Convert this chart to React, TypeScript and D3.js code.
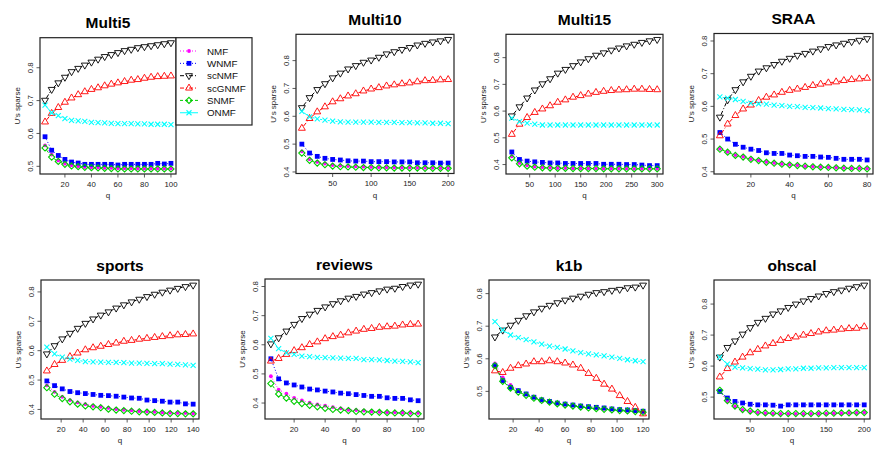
import React from 'react';
import * as d3 from 'd3';

// ---------- series meta ----------
const seriesNames = ['NMF', 'WNMF', 'scNMF', 'scGNMF', 'SNMF', 'ONMF'];
const seriesColors = ['#FF00FF', '#0000FF', '#000000', '#FF0000', '#00CD00', '#00FFFF'];
const seriesDash = ['1,2', '1,2', '4,2,1,2', '4,2,1,2', '3,2', ''];

// ---------- Multi5 ----------
const multi5Q = [5, 10, 15, 20, 25, 30, 35, 40, 45, 50, 55, 60, 65, 70, 75, 80, 85, 90, 95, 100];
const multi5NMF = [0.564, 0.536, 0.518, 0.508, 0.503, 0.500, 0.498, 0.497, 0.496, 0.495, 0.495, 0.494, 0.494, 0.494, 0.493, 0.493, 0.493, 0.493, 0.493, 0.493];
const multi5WNMF = [0.590, 0.549, 0.533, 0.521, 0.513, 0.510, 0.506, 0.506, 0.506, 0.506, 0.506, 0.504, 0.506, 0.506, 0.506, 0.506, 0.506, 0.509, 0.507, 0.509];
const multi5ScNMF = [0.701, 0.734, 0.754, 0.771, 0.788, 0.798, 0.808, 0.817, 0.826, 0.834, 0.840, 0.846, 0.852, 0.856, 0.861, 0.864, 0.867, 0.870, 0.873, 0.876];
const multi5ScGNMF = [0.635, 0.661, 0.679, 0.695, 0.708, 0.718, 0.727, 0.734, 0.739, 0.745, 0.750, 0.754, 0.758, 0.762, 0.764, 0.768, 0.771, 0.773, 0.774, 0.775];
const multi5SNMF = [0.556, 0.528, 0.515, 0.506, 0.501, 0.499, 0.497, 0.496, 0.495, 0.494, 0.493, 0.492, 0.492, 0.492, 0.492, 0.492, 0.492, 0.492, 0.492, 0.492];
const multi5ONMF = [0.686, 0.663, 0.654, 0.645, 0.640, 0.638, 0.637, 0.634, 0.633, 0.632, 0.631, 0.630, 0.630, 0.630, 0.629, 0.629, 0.628, 0.628, 0.628, 0.627];

// ---------- Multi10 ----------
const multi10Q = [10, 20, 30, 40, 50, 60, 70, 80, 90, 100, 110, 120, 130, 140, 150, 160, 170, 180, 190, 200];
const multi10NMF = [0.474, 0.446, 0.436, 0.430, 0.425, 0.423, 0.421, 0.420, 0.419, 0.418, 0.417, 0.417, 0.416, 0.416, 0.416, 0.415, 0.415, 0.415, 0.414, 0.414];
const multi10WNMF = [0.500, 0.468, 0.456, 0.449, 0.445, 0.443, 0.440, 0.439, 0.439, 0.437, 0.437, 0.437, 0.436, 0.436, 0.436, 0.433, 0.433, 0.433, 0.432, 0.432];
const multi10ScNMF = [0.631, 0.667, 0.696, 0.717, 0.738, 0.755, 0.770, 0.782, 0.794, 0.802, 0.812, 0.824, 0.832, 0.840, 0.847, 0.856, 0.862, 0.867, 0.871, 0.876];
const multi10ScGNMF = [0.557, 0.592, 0.616, 0.634, 0.652, 0.663, 0.673, 0.681, 0.691, 0.698, 0.703, 0.709, 0.713, 0.717, 0.720, 0.724, 0.728, 0.729, 0.731, 0.732];
const multi10SNMF = [0.468, 0.442, 0.432, 0.426, 0.421, 0.419, 0.418, 0.417, 0.416, 0.416, 0.415, 0.415, 0.414, 0.414, 0.414, 0.414, 0.413, 0.413, 0.413, 0.413];
const multi10ONMF = [0.618, 0.598, 0.591, 0.586, 0.583, 0.580, 0.579, 0.579, 0.579, 0.579, 0.578, 0.578, 0.578, 0.577, 0.577, 0.576, 0.576, 0.575, 0.575, 0.574];

// ---------- Multi15 ----------
const multi15Q = [15, 30, 45, 60, 75, 90, 105, 120, 135, 150, 165, 180, 195, 210, 225, 240, 255, 270, 285, 300];
const multi15NMF = [0.431, 0.406, 0.397, 0.392, 0.390, 0.388, 0.387, 0.387, 0.386, 0.386, 0.386, 0.385, 0.385, 0.385, 0.385, 0.385, 0.384, 0.384, 0.384, 0.384];
const multi15WNMF = [0.447, 0.419, 0.413, 0.410, 0.408, 0.406, 0.406, 0.404, 0.404, 0.404, 0.404, 0.404, 0.401, 0.401, 0.401, 0.400, 0.400, 0.398, 0.396, 0.396];
const multi15ScNMF = [0.582, 0.616, 0.649, 0.679, 0.702, 0.721, 0.742, 0.756, 0.770, 0.784, 0.796, 0.809, 0.818, 0.828, 0.836, 0.844, 0.850, 0.857, 0.863, 0.868];
const multi15ScGNMF = [0.513, 0.551, 0.576, 0.595, 0.608, 0.620, 0.633, 0.642, 0.652, 0.658, 0.664, 0.670, 0.674, 0.677, 0.679, 0.680, 0.682, 0.682, 0.681, 0.680];
const multi15SNMF = [0.425, 0.403, 0.394, 0.390, 0.388, 0.387, 0.386, 0.386, 0.385, 0.385, 0.385, 0.385, 0.384, 0.384, 0.384, 0.384, 0.384, 0.384, 0.384, 0.384];
const multi15ONMF = [0.574, 0.561, 0.555, 0.551, 0.548, 0.548, 0.548, 0.548, 0.548, 0.548, 0.548, 0.548, 0.548, 0.548, 0.548, 0.548, 0.548, 0.548, 0.548, 0.548];

// ---------- SRAA ----------
const sraaQ = [4, 8, 12, 16, 20, 24, 28, 32, 36, 40, 44, 48, 52, 56, 60, 64, 68, 72, 76, 80];
const sraaNMF = [0.470, 0.461, 0.451, 0.446, 0.439, 0.435, 0.430, 0.427, 0.424, 0.422, 0.420, 0.417, 0.416, 0.415, 0.414, 0.413, 0.412, 0.411, 0.411, 0.410];
const sraaWNMF = [0.520, 0.500, 0.484, 0.475, 0.469, 0.465, 0.458, 0.456, 0.456, 0.451, 0.449, 0.447, 0.447, 0.445, 0.444, 0.441, 0.438, 0.438, 0.438, 0.436];
const sraaScNMF = [0.567, 0.620, 0.651, 0.675, 0.692, 0.708, 0.718, 0.728, 0.738, 0.747, 0.756, 0.762, 0.769, 0.776, 0.783, 0.788, 0.793, 0.798, 0.802, 0.807];
const sraaScGNMF = [0.510, 0.546, 0.572, 0.592, 0.604, 0.618, 0.628, 0.635, 0.643, 0.649, 0.653, 0.658, 0.664, 0.668, 0.672, 0.675, 0.679, 0.682, 0.684, 0.686];
const sraaSNMF = [0.469, 0.460, 0.450, 0.445, 0.438, 0.434, 0.429, 0.426, 0.423, 0.421, 0.419, 0.417, 0.415, 0.414, 0.413, 0.412, 0.411, 0.410, 0.410, 0.409];
const sraaONMF = [0.629, 0.625, 0.621, 0.615, 0.610, 0.608, 0.607, 0.604, 0.602, 0.600, 0.599, 0.597, 0.596, 0.595, 0.593, 0.592, 0.591, 0.590, 0.589, 0.587];

// ---------- sports ----------
const sportsQ = [7, 14, 21, 28, 35, 42, 49, 56, 63, 70, 77, 84, 91, 98, 105, 112, 119, 126, 133, 140];
const sportsNMF = [0.482, 0.460, 0.443, 0.432, 0.424, 0.418, 0.412, 0.409, 0.405, 0.401, 0.399, 0.397, 0.394, 0.393, 0.392, 0.390, 0.389, 0.388, 0.388, 0.386];
const sportsWNMF = [0.497, 0.481, 0.470, 0.461, 0.457, 0.454, 0.451, 0.448, 0.447, 0.445, 0.442, 0.439, 0.438, 0.432, 0.430, 0.428, 0.425, 0.425, 0.419, 0.418];
const sportsScNMF = [0.589, 0.617, 0.640, 0.659, 0.676, 0.693, 0.708, 0.721, 0.732, 0.745, 0.756, 0.766, 0.775, 0.784, 0.792, 0.799, 0.806, 0.812, 0.818, 0.823];
const sportsScGNMF = [0.531, 0.553, 0.567, 0.580, 0.592, 0.603, 0.610, 0.615, 0.621, 0.626, 0.632, 0.635, 0.639, 0.642, 0.645, 0.648, 0.651, 0.654, 0.655, 0.657];
const sportsSNMF = [0.474, 0.452, 0.437, 0.426, 0.418, 0.412, 0.409, 0.406, 0.401, 0.398, 0.396, 0.394, 0.392, 0.391, 0.390, 0.388, 0.386, 0.386, 0.385, 0.385];
const sportsONMF = [0.612, 0.589, 0.578, 0.571, 0.567, 0.563, 0.562, 0.561, 0.560, 0.560, 0.559, 0.558, 0.558, 0.557, 0.556, 0.556, 0.554, 0.553, 0.552, 0.550];

// ---------- reviews ----------
const reviewsQ = [5, 10, 15, 20, 25, 30, 35, 40, 45, 50, 55, 60, 65, 70, 75, 80, 85, 90, 95, 100];
const reviewsNMF = [0.492, 0.446, 0.432, 0.418, 0.409, 0.401, 0.395, 0.391, 0.386, 0.382, 0.377, 0.376, 0.374, 0.371, 0.370, 0.368, 0.368, 0.367, 0.366, 0.366];
const reviewsWNMF = [0.552, 0.483, 0.469, 0.462, 0.455, 0.448, 0.445, 0.441, 0.438, 0.434, 0.432, 0.429, 0.426, 0.423, 0.423, 0.418, 0.416, 0.416, 0.411, 0.408];
const reviewsScNMF = [0.603, 0.624, 0.647, 0.670, 0.690, 0.705, 0.718, 0.730, 0.741, 0.751, 0.760, 0.766, 0.774, 0.779, 0.785, 0.791, 0.794, 0.800, 0.805, 0.808];
const reviewsScGNMF = [0.544, 0.553, 0.567, 0.580, 0.590, 0.601, 0.610, 0.621, 0.628, 0.633, 0.641, 0.647, 0.653, 0.656, 0.660, 0.662, 0.664, 0.668, 0.670, 0.671];
const reviewsSNMF = [0.467, 0.431, 0.417, 0.406, 0.398, 0.392, 0.387, 0.382, 0.378, 0.376, 0.374, 0.371, 0.370, 0.369, 0.368, 0.367, 0.366, 0.366, 0.364, 0.363];
const reviewsONMF = [0.622, 0.587, 0.572, 0.567, 0.561, 0.559, 0.557, 0.556, 0.555, 0.554, 0.553, 0.553, 0.549, 0.549, 0.548, 0.546, 0.544, 0.543, 0.541, 0.539];

// ---------- k1b ----------
const k1bQ = [6, 12, 18, 24, 30, 36, 42, 48, 54, 60, 66, 72, 78, 84, 90, 96, 102, 108, 114, 120];
const k1bNMF = [0.586, 0.543, 0.520, 0.504, 0.492, 0.482, 0.474, 0.469, 0.464, 0.460, 0.457, 0.454, 0.451, 0.449, 0.447, 0.445, 0.443, 0.441, 0.439, 0.437];
const k1bWNMF = [0.579, 0.533, 0.512, 0.502, 0.492, 0.482, 0.474, 0.469, 0.464, 0.461, 0.458, 0.455, 0.453, 0.451, 0.449, 0.446, 0.444, 0.443, 0.441, 0.439];
const k1bScNMF = [0.667, 0.688, 0.703, 0.718, 0.732, 0.744, 0.755, 0.764, 0.772, 0.780, 0.786, 0.792, 0.798, 0.803, 0.806, 0.810, 0.813, 0.818, 0.820, 0.826];
const k1bScGNMF = [0.563, 0.558, 0.571, 0.579, 0.584, 0.591, 0.591, 0.594, 0.591, 0.587, 0.581, 0.571, 0.555, 0.540, 0.522, 0.507, 0.487, 0.469, 0.451, 0.431];
const k1bSNMF = [0.579, 0.531, 0.510, 0.498, 0.488, 0.479, 0.472, 0.467, 0.462, 0.458, 0.455, 0.452, 0.449, 0.447, 0.445, 0.443, 0.441, 0.440, 0.438, 0.436];
const k1bONMF = [0.714, 0.688, 0.673, 0.665, 0.659, 0.652, 0.645, 0.639, 0.635, 0.630, 0.624, 0.619, 0.615, 0.612, 0.609, 0.605, 0.601, 0.597, 0.594, 0.591];

// ---------- ohscal ----------
const ohscalQ = [10, 20, 30, 40, 50, 60, 70, 80, 90, 100, 110, 120, 130, 140, 150, 160, 170, 180, 190, 200];
const ohscalNMF = [0.518, 0.487, 0.470, 0.459, 0.454, 0.450, 0.448, 0.447, 0.446, 0.446, 0.446, 0.446, 0.446, 0.447, 0.447, 0.448, 0.448, 0.449, 0.449, 0.450];
const ohscalWNMF = [0.518, 0.497, 0.486, 0.481, 0.477, 0.475, 0.475, 0.474, 0.471, 0.475, 0.475, 0.475, 0.475, 0.475, 0.475, 0.475, 0.475, 0.475, 0.475, 0.475];
const ohscalScNMF = [0.629, 0.660, 0.681, 0.703, 0.724, 0.741, 0.754, 0.768, 0.778, 0.789, 0.800, 0.810, 0.818, 0.826, 0.834, 0.840, 0.845, 0.851, 0.856, 0.861];
const ohscalScGNMF = [0.565, 0.592, 0.613, 0.629, 0.643, 0.654, 0.665, 0.673, 0.683, 0.689, 0.694, 0.700, 0.705, 0.710, 0.714, 0.716, 0.719, 0.721, 0.722, 0.727];
const ohscalSNMF = [0.522, 0.489, 0.471, 0.460, 0.455, 0.451, 0.449, 0.448, 0.447, 0.447, 0.447, 0.447, 0.447, 0.447, 0.448, 0.448, 0.449, 0.449, 0.450, 0.450];
const ohscalONMF = [0.629, 0.606, 0.597, 0.594, 0.592, 0.590, 0.588, 0.588, 0.589, 0.591, 0.591, 0.593, 0.593, 0.594, 0.594, 0.595, 0.595, 0.595, 0.595, 0.595];

// ---------- tick labels ----------
const multi5XTicks = [20, 40, 60, 80, 100];
const multi10XTicks = [50, 100, 150, 200];
const multi15XTicks = [50, 100, 150, 200, 250, 300];
const sraaXTicks = [20, 40, 60, 80];
const sportsXTicks = [20, 40, 60, 80, 100, 120, 140];
const reviewsXTicks = [20, 40, 60, 80, 100];
const k1bXTicks = [20, 40, 60, 80, 100, 120];
const ohscalXTicks = [50, 100, 150, 200];
const yTicksFrom04 = [0.4, 0.5, 0.6, 0.7, 0.8];
const yTicksFrom05 = [0.5, 0.6, 0.7, 0.8];

const panelTitles = ['Multi5', 'Multi10', 'Multi15', 'SRAA', 'sports', 'reviews', 'k1b', 'ohscal'];

// layout (plot box in px): [left, right, top, bottom]
const panelBoxes: number[][] = [
  [40, 176, 37.7, 174],
  [296, 454, 34.3, 173.5],
  [506, 663, 34.3, 174],
  [714, 873, 33.5, 174],
  [41, 199, 280, 419],
  [265, 424, 279, 419],
  [489, 649, 280, 419],
  [714, 870, 280, 419],
];

const panels = [
  { q: multi5Q, s: [multi5NMF, multi5WNMF, multi5ScNMF, multi5ScGNMF, multi5SNMF, multi5ONMF], xt: multi5XTicks, yt: yTicksFrom05 },
  { q: multi10Q, s: [multi10NMF, multi10WNMF, multi10ScNMF, multi10ScGNMF, multi10SNMF, multi10ONMF], xt: multi10XTicks, yt: yTicksFrom04 },
  { q: multi15Q, s: [multi15NMF, multi15WNMF, multi15ScNMF, multi15ScGNMF, multi15SNMF, multi15ONMF], xt: multi15XTicks, yt: yTicksFrom04 },
  { q: sraaQ, s: [sraaNMF, sraaWNMF, sraaScNMF, sraaScGNMF, sraaSNMF, sraaONMF], xt: sraaXTicks, yt: yTicksFrom04 },
  { q: sportsQ, s: [sportsNMF, sportsWNMF, sportsScNMF, sportsScGNMF, sportsSNMF, sportsONMF], xt: sportsXTicks, yt: yTicksFrom04 },
  { q: reviewsQ, s: [reviewsNMF, reviewsWNMF, reviewsScNMF, reviewsScGNMF, reviewsSNMF, reviewsONMF], xt: reviewsXTicks, yt: yTicksFrom04 },
  { q: k1bQ, s: [k1bNMF, k1bWNMF, k1bScNMF, k1bScGNMF, k1bSNMF, k1bONMF], xt: k1bXTicks, yt: yTicksFrom05 },
  { q: ohscalQ, s: [ohscalNMF, ohscalWNMF, ohscalScNMF, ohscalScGNMF, ohscalSNMF, ohscalONMF], xt: ohscalXTicks, yt: yTicksFrom05 },
];

const FONT = "'Liberation Sans', Arial, Helvetica, sans-serif";

function rPad(ext: [number, number]): [number, number] {
  const d = (ext[1] - ext[0]) * 0.04;
  return [ext[0] - d, ext[1] + d];
}

function Marker({ i, x, y }: { i: number; x: number; y: number }) {
  const c = seriesColors[i];
  if (i === 0) return <circle cx={x} cy={y} r={1.9} fill={c} />;
  if (i === 1) return <rect x={x - 2.4} y={y - 2.4} width={4.8} height={4.8} fill={c} />;
  if (i === 2) {
    const r = 4;
    const pts = [[x, y + r], [x - r * 0.866, y - r / 2], [x + r * 0.866, y - r / 2]];
    return <polygon points={pts.map((p) => p.join(',')).join(' ')} fill="none" stroke={c} strokeWidth={0.9} />;
  }
  if (i === 3) {
    const r = 4;
    const pts = [[x, y - r], [x - r * 0.866, y + r / 2], [x + r * 0.866, y + r / 2]];
    return <polygon points={pts.map((p) => p.join(',')).join(' ')} fill="none" stroke={c} strokeWidth={0.9} />;
  }
  if (i === 4) {
    const r = 3.1;
    const pts = [[x, y - r], [x + r, y], [x, y + r], [x - r, y]];
    return <polygon points={pts.map((p) => p.join(',')).join(' ')} fill="none" stroke={c} strokeWidth={1.1} />;
  }
  const r = 2.5;
  return (
    <g stroke={c} strokeWidth={1.1}>
      <line x1={x - r} y1={y - r} x2={x + r} y2={y + r} />
      <line x1={x - r} y1={y + r} x2={x + r} y2={y - r} />
    </g>
  );
}

function gappedSegments(pts: [number, number][], gap: number) {
  const segs: string[] = [];
  for (let k = 0; k < pts.length - 1; k++) {
    const [x0, y0] = pts[k];
    const [x1, y1] = pts[k + 1];
    const dx = x1 - x0, dy = y1 - y0;
    const d = Math.hypot(dx, dy);
    if (d <= 2 * gap) continue;
    const ux = dx / d, uy = dy / d;
    segs.push(`M${x0 + ux * gap},${y0 + uy * gap}L${x1 - ux * gap},${y1 - uy * gap}`);
  }
  return segs.join('');
}

function Panel({ idx }: { idx: number }) {
  const p = panels[idx];
  const [L, R, T, B] = panelBoxes[idx];
  const all = p.s.flat();
  const x = d3.scaleLinear().domain(rPad(d3.extent(p.q) as [number, number])).range([L, R]);
  const y = d3.scaleLinear().domain(rPad(d3.extent(all) as [number, number])).range([B, T]);
  const cx = (L + R) / 2;
  const cy = (T + B) / 2;
  return (
    <g>
      <text x={cx} y={T - 9.5} textAnchor="middle" fontFamily={FONT} fontWeight="bold" fontSize={15.5}>
        {panelTitles[idx]}
      </text>
      {p.s.map((vals, si) => {
        const pts = vals.map((v, k) => [x(p.q[k]), y(v)] as [number, number]);
        return (
          <g key={si}>
            <path d={gappedSegments(pts, 2.8)} fill="none" stroke={seriesColors[si]} strokeWidth={1} strokeDasharray={seriesDash[si] || undefined} />
            {pts.map((pt, k) => (
              <Marker key={k} i={si} x={pt[0]} y={pt[1]} />
            ))}
          </g>
        );
      })}
      <rect x={L} y={T} width={R - L} height={B - T} fill="none" stroke="#222" strokeWidth={1.2} />
      {p.xt.map((t) => (
        <g key={'x' + t}>
          <line x1={x(t)} x2={x(t)} y1={B} y2={B + 3.5} stroke="#333" strokeWidth={0.8} />
          <text x={x(t)} y={B + 12.5} textAnchor="middle" fontFamily={FONT} fontSize={7.8} fill="#222">
            {t}
          </text>
        </g>
      ))}
      {p.yt.map((t) => (
        <g key={'y' + t}>
          <line x1={L - 3.5} x2={L} y1={y(t)} y2={y(t)} stroke="#333" strokeWidth={0.8} />
          <text
            transform={`translate(${L - 7.5},${y(t)}) rotate(-90)`}
            textAnchor="middle"
            fontFamily={FONT}
            fontSize={7.8}
            fill="#222"
          >
            {t.toFixed(1)}
          </text>
        </g>
      ))}
      <text x={cx} y={B + 24} textAnchor="middle" fontFamily={FONT} fontSize={8} fill="#222">
        q
      </text>
      <text
        transform={`translate(${L - 20},${cy}) rotate(-90)`}
        textAnchor="middle"
        fontFamily={FONT}
        fontSize={8}
        fill="#222"
      >
        U's sparse
      </text>
    </g>
  );
}

function Legend() {
  const x0 = 176, x1 = 252, y0 = 37.7, y1 = 125;
  return (
    <g>
      <rect x={x0} y={y0} width={x1 - x0} height={y1 - y0} fill="white" stroke="#222" strokeWidth={1.2} />
      {seriesNames.map((n, i) => {
        const yy = 51 + i * 12.35;
        return (
          <g key={n}>
            <line x1={180} x2={198} y1={yy} y2={yy} stroke={seriesColors[i]} strokeWidth={1} strokeDasharray={seriesDash[i] || undefined} />
            <Marker i={i} x={189} y={yy} />
            <text x={207} y={yy + 3.5} fontFamily={FONT} fontSize={9.8} fill="#111">
              {n}
            </text>
          </g>
        );
      })}
    </g>
  );
}

export default function App() {
  return (
    <svg
      width={881}
      height={451}
      viewBox="0 0 881 451"
      style={{ position: 'absolute', left: 0, top: 0, background: 'white' }}
    >
      <rect x={0} y={0} width={881} height={451} fill="white" />
      {panels.map((_, i) => (
        <Panel key={i} idx={i} />
      ))}
      <Legend />
    </svg>
  );
}
